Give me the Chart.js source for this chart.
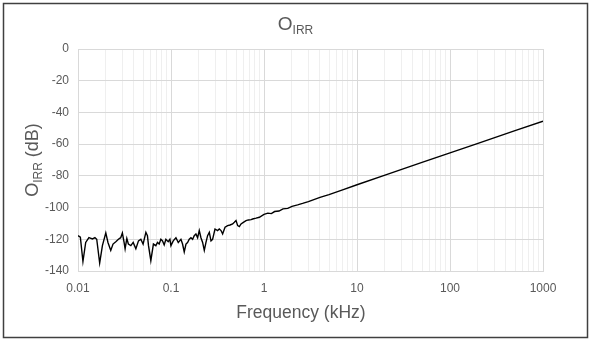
<!DOCTYPE html>
<html>
<head>
<meta charset="utf-8">
<script src="https://cdn.jsdelivr.net/npm/chart.js@4.4.0/dist/chart.umd.min.js"></script>
<style>
  html, body { margin: 0; padding: 0; background: #fff; }
  #wrap { width: 591px; height: 341px; }
</style>
</head>
<body>
<div id="wrap"><canvas id="oirrChart"></canvas></div>
<script>
// frequency (kHz) and output image rejection (dB)
const freqKHz = [
  0.0100, 0.0106, 0.0113, 0.0121, 0.0131, 0.0143, 0.0152, 0.0159, 0.0171, 0.0183,
  0.0199, 0.0210, 0.0225, 0.0238, 0.0255, 0.0272, 0.0288, 0.0300, 0.0313, 0.0321,
  0.0335, 0.0348, 0.0370, 0.0392, 0.0419, 0.0447, 0.0474, 0.0501, 0.0537, 0.0558,
  0.0573, 0.0607, 0.0647, 0.0687, 0.0716, 0.0746, 0.0778, 0.0811, 0.0845, 0.0881,
  0.0933, 0.0973, 0.0998, 0.1057, 0.1130, 0.1197, 0.1279, 0.1331, 0.1388, 0.1449,
  0.1507, 0.1571, 0.1638, 0.1708, 0.1778, 0.1854, 0.1932, 0.2014, 0.2099, 0.2188,
  0.2280, 0.2377, 0.2474, 0.2582, 0.2692, 0.2800, 0.2972, 0.3170, 0.3304, 0.3451,
  0.3589, 0.3811, 0.4064, 0.4315, 0.4603, 0.4797, 0.5003, 0.5212, 0.5433, 0.5662,
  0.5998, 0.6412, 0.6792, 0.7261, 0.7551, 0.8222, 0.8913, 1.0, 1.1, 1.2,
  1.3, 1.45, 1.6, 1.8, 2.0, 2.3, 2.6, 3.0, 4.0, 5.0,
  7.0, 10, 20, 50, 100, 200, 500, 1000
];
const oirrDb = [
  -117.7, -118.7, -134, -122, -119, -119.8, -119, -120, -135, -124,
  -116, -122, -127, -123, -121.5, -120, -119, -116, -122, -126,
  -119.5, -123, -124, -122, -126, -121, -120, -123, -115.6, -117.7,
  -124, -133.5, -123, -124, -122, -123, -120, -121, -123.6, -120,
  -121.5, -120, -124, -121, -119, -122, -120, -123, -128, -123,
  -122, -120, -119, -120, -117.7, -116.6, -119, -114.5, -119, -122,
  -127, -122, -117.7, -115.6, -121, -120, -113.5, -114.5, -113.5, -114.5,
  -116.6, -112.4, -111.4, -111, -110.3, -109.3, -108.2, -111.4, -112, -110.3,
  -109.3, -108.2, -107.8, -107.6, -107.2, -106.7, -106.1, -104.3, -103.5, -103.8,
  -102.5, -102.2, -100.8, -100.5, -99.2, -98.3, -97.4, -96.2, -93.6, -91.8,
  -88.8, -85.6, -79.5, -71.5, -65.5, -59.5, -51.5, -45.5
];
const xDecades = [0.01, 0.1, 1, 10, 100, 1000];
const yMin = -140;
const yMax = 0;
const yStep = 20;

const textColor = '#595959';
const fontFamily = '"Liberation Sans", Arial, sans-serif';

function isDecade(v) {
  const l = Math.log10(v);
  return Math.abs(l - Math.round(l)) < 1e-6;
}

// text with a subscript part, e.g. O + IRR
function drawSub(c, main, sub, rest, cx, cy, big, small) {
  c.font = big + 'px ' + fontFamily;
  const w1 = c.measureText(main).width;
  const w3 = rest ? c.measureText(rest).width : 0;
  c.font = small + 'px ' + fontFamily;
  const w2 = c.measureText(sub).width;
  let x = cx - (w1 + w2 + w3) / 2;
  c.textBaseline = 'middle';
  c.textAlign = 'left';
  c.font = big + 'px ' + fontFamily;
  c.fillText(main, x, cy);
  x += w1;
  c.font = small + 'px ' + fontFamily;
  c.fillText(sub, x, cy + big * 0.3);
  x += w2;
  if (rest) {
    c.font = big + 'px ' + fontFamily;
    c.fillText(rest, x, cy);
  }
}

const frameAndTitles = {
  id: 'frameAndTitles',
  beforeDraw(chart) {
    const c = chart.ctx;
    c.save();
    c.fillStyle = '#fff';
    c.fillRect(0, 0, chart.width, chart.height);
    c.restore();
  },
  afterDraw(chart) {
    const c = chart.ctx;
    const area = chart.chartArea;
    c.save();
    c.strokeStyle = '#404040';
    c.lineWidth = 1.5;
    c.strokeRect(3.5, 3.5, chart.width - 7, chart.height - 7);

    c.fillStyle = textColor;
    drawSub(c, 'O', 'IRR', '', chart.width / 2, 25, 19, 12);

    c.font = '17.5px ' + fontFamily;
    c.textAlign = 'center';
    c.textBaseline = 'middle';
    c.fillText('Frequency (kHz)', 301, 313);

    c.translate(33, (area.top + area.bottom) / 2);
    c.rotate(-Math.PI / 2);
    drawSub(c, 'O', 'IRR', ' (dB)', 0, 0, 18, 12);
    c.restore();
  }
};

const ctx = document.getElementById('oirrChart').getContext('2d');
const chart = new Chart(ctx, {
  type: 'line',
  data: {
    datasets: [{
      label: 'OIRR',
      data: freqKHz.map((f, i) => ({ x: f, y: oirrDb[i] })),
      borderColor: '#000',
      borderWidth: 1.4,
      pointRadius: 0,
      tension: 0,
      fill: false
    }]
  },
  options: {
    responsive: true,
    maintainAspectRatio: false,
    animation: false,
    layout: { padding: { left: 0, right: 48, top: 49, bottom: 0 } },
    plugins: {
      legend: { display: false },
      title: { display: false },
      tooltip: { enabled: false }
    },
    scales: {
      x: {
        type: 'logarithmic',
        min: xDecades[0],
        max: xDecades[xDecades.length - 1],
        afterFit: function(scale) { scale.height = 70; },
        afterBuildTicks: function(scale) {
          const list = [];
          for (let d = 0; d < xDecades.length; d++) {
            for (let m = 1; m <= 9; m++) {
              const v = +(xDecades[d] * m).toPrecision(6);
              if (v <= xDecades[xDecades.length - 1]) list.push({ value: v });
            }
          }
          scale.ticks = list;
        },
        ticks: {
          autoSkip: false,
          maxRotation: 0,
          padding: 10,
          color: textColor,
          font: { family: fontFamily, size: 12 },
          callback: function(value) {
            return isDecade(value) ? String(+value.toPrecision(6)) : '';
          }
        },
        grid: {
          drawTicks: false,
          color: function(c) {
            return c.tick && isDecade(c.tick.value) ? '#d9d9d9' : '#efefef';
          }
        },
        border: { color: '#d9d9d9' }
      },
      y: {
        min: yMin,
        max: yMax,
        afterFit: function(scale) { scale.width = 78; },
        ticks: {
          stepSize: yStep,
          padding: 9,
          color: textColor,
          font: { family: fontFamily, size: 12 }
        },
        grid: { drawTicks: false, color: '#d9d9d9' },
        border: { color: '#d9d9d9' }
      }
    }
  },
  plugins: [frameAndTitles]
});
</script>
</body>
</html>
